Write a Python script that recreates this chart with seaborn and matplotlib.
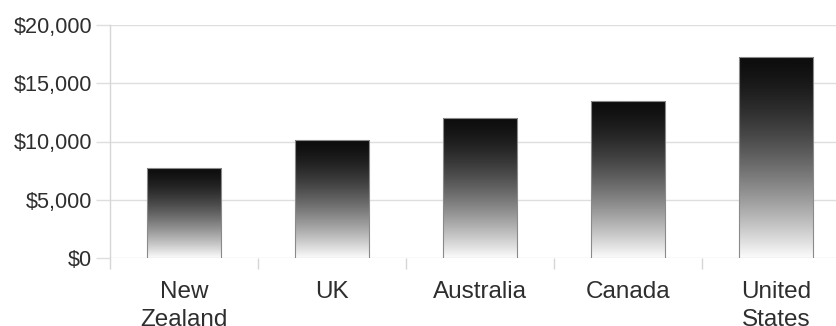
import numpy as np
import pandas as pd
import matplotlib
matplotlib.use("Agg")
import matplotlib.pyplot as plt
from matplotlib.colors import LinearSegmentedColormap
from matplotlib.ticker import FixedLocator, FuncFormatter
import seaborn as sns

# Spending per country (USD)
countries = ["New\nZealand", "UK", "Australia", "Canada", "United\nStates"]
spending = [7750, 10100, 12050, 13450, 17250]
y_ticks = [0, 5000, 10000, 15000, 20000]

df = pd.DataFrame({"country": countries, "spending": spending})

sns.set_theme(style="white")
plt.rcParams["font.family"] = ["Liberation Sans", "DejaVu Sans"]

fig = plt.figure(figsize=(8.36, 3.26), dpi=100)
fig.patch.set_facecolor("white")
ax = fig.add_axes([110 / 836, 67.7 / 326, 1 - 110 / 836, (301.3 - 67.7) / 326])

sns.barplot(data=df, x="country", y="spending", width=0.5, color="white",
            edgecolor="#8a8a8a", linewidth=0.8, ax=ax, zorder=3)

# vertical black-to-white fill clipped to each bar
ramp = LinearSegmentedColormap.from_list("ramp", ["#0e0e0e", "#fbfbfb"])
t = np.linspace(0, 1, 256) ** 1.5
grad = t.reshape(-1, 1)
for bar in ax.patches:
    x0, y0 = bar.get_x(), bar.get_y()
    w, h = bar.get_width(), bar.get_height()
    im = ax.imshow(grad, cmap=ramp, vmin=0, vmax=1, aspect="auto",
                   extent=[x0, x0 + w, y0, y0 + h], origin="upper",
                   zorder=3.5, interpolation="bilinear")
    im.set_clip_path(bar)
    bar.set_zorder(4)
    bar.set_facecolor("none")

ax.set_xlim(-0.5, 4.405)
ax.set_ylim(0, 20000)
ax.yaxis.set_major_locator(FixedLocator(y_ticks))
ax.yaxis.set_major_formatter(FuncFormatter(lambda v, _: f"${v:,.0f}"))
ax.grid(axis="y", color="#dedede", linewidth=1.0, zorder=0)
ax.grid(axis="x", visible=False)

ax.set_xlabel("")
ax.set_ylabel("")

for side in ["top", "right", "bottom"]:
    ax.spines[side].set_visible(False)
ax.spines["left"].set_color("#d6d6d6")
ax.spines["left"].set_linewidth(1.0)

# tick marks at category boundaries
ax.xaxis.set_minor_locator(FixedLocator(np.arange(-0.5, 5, 1.0)))
ax.tick_params(axis="x", which="major", length=0, pad=16.5,
               labelsize=17.5, labelcolor="#2e2e2e")
ax.tick_params(axis="x", which="minor", length=8, width=1.0,
               color="#d6d6d6", direction="out", bottom=True)
ax.tick_params(axis="y", which="major", length=10, width=1.0,
               color="#dedede", pad=3, labelsize=15.6, labelcolor="#2e2e2e",
               left=True)
for lbl in ax.get_xticklabels():
    lbl.set_linespacing(1.32)

fig.savefig("out.png", dpi=100, facecolor="white")
